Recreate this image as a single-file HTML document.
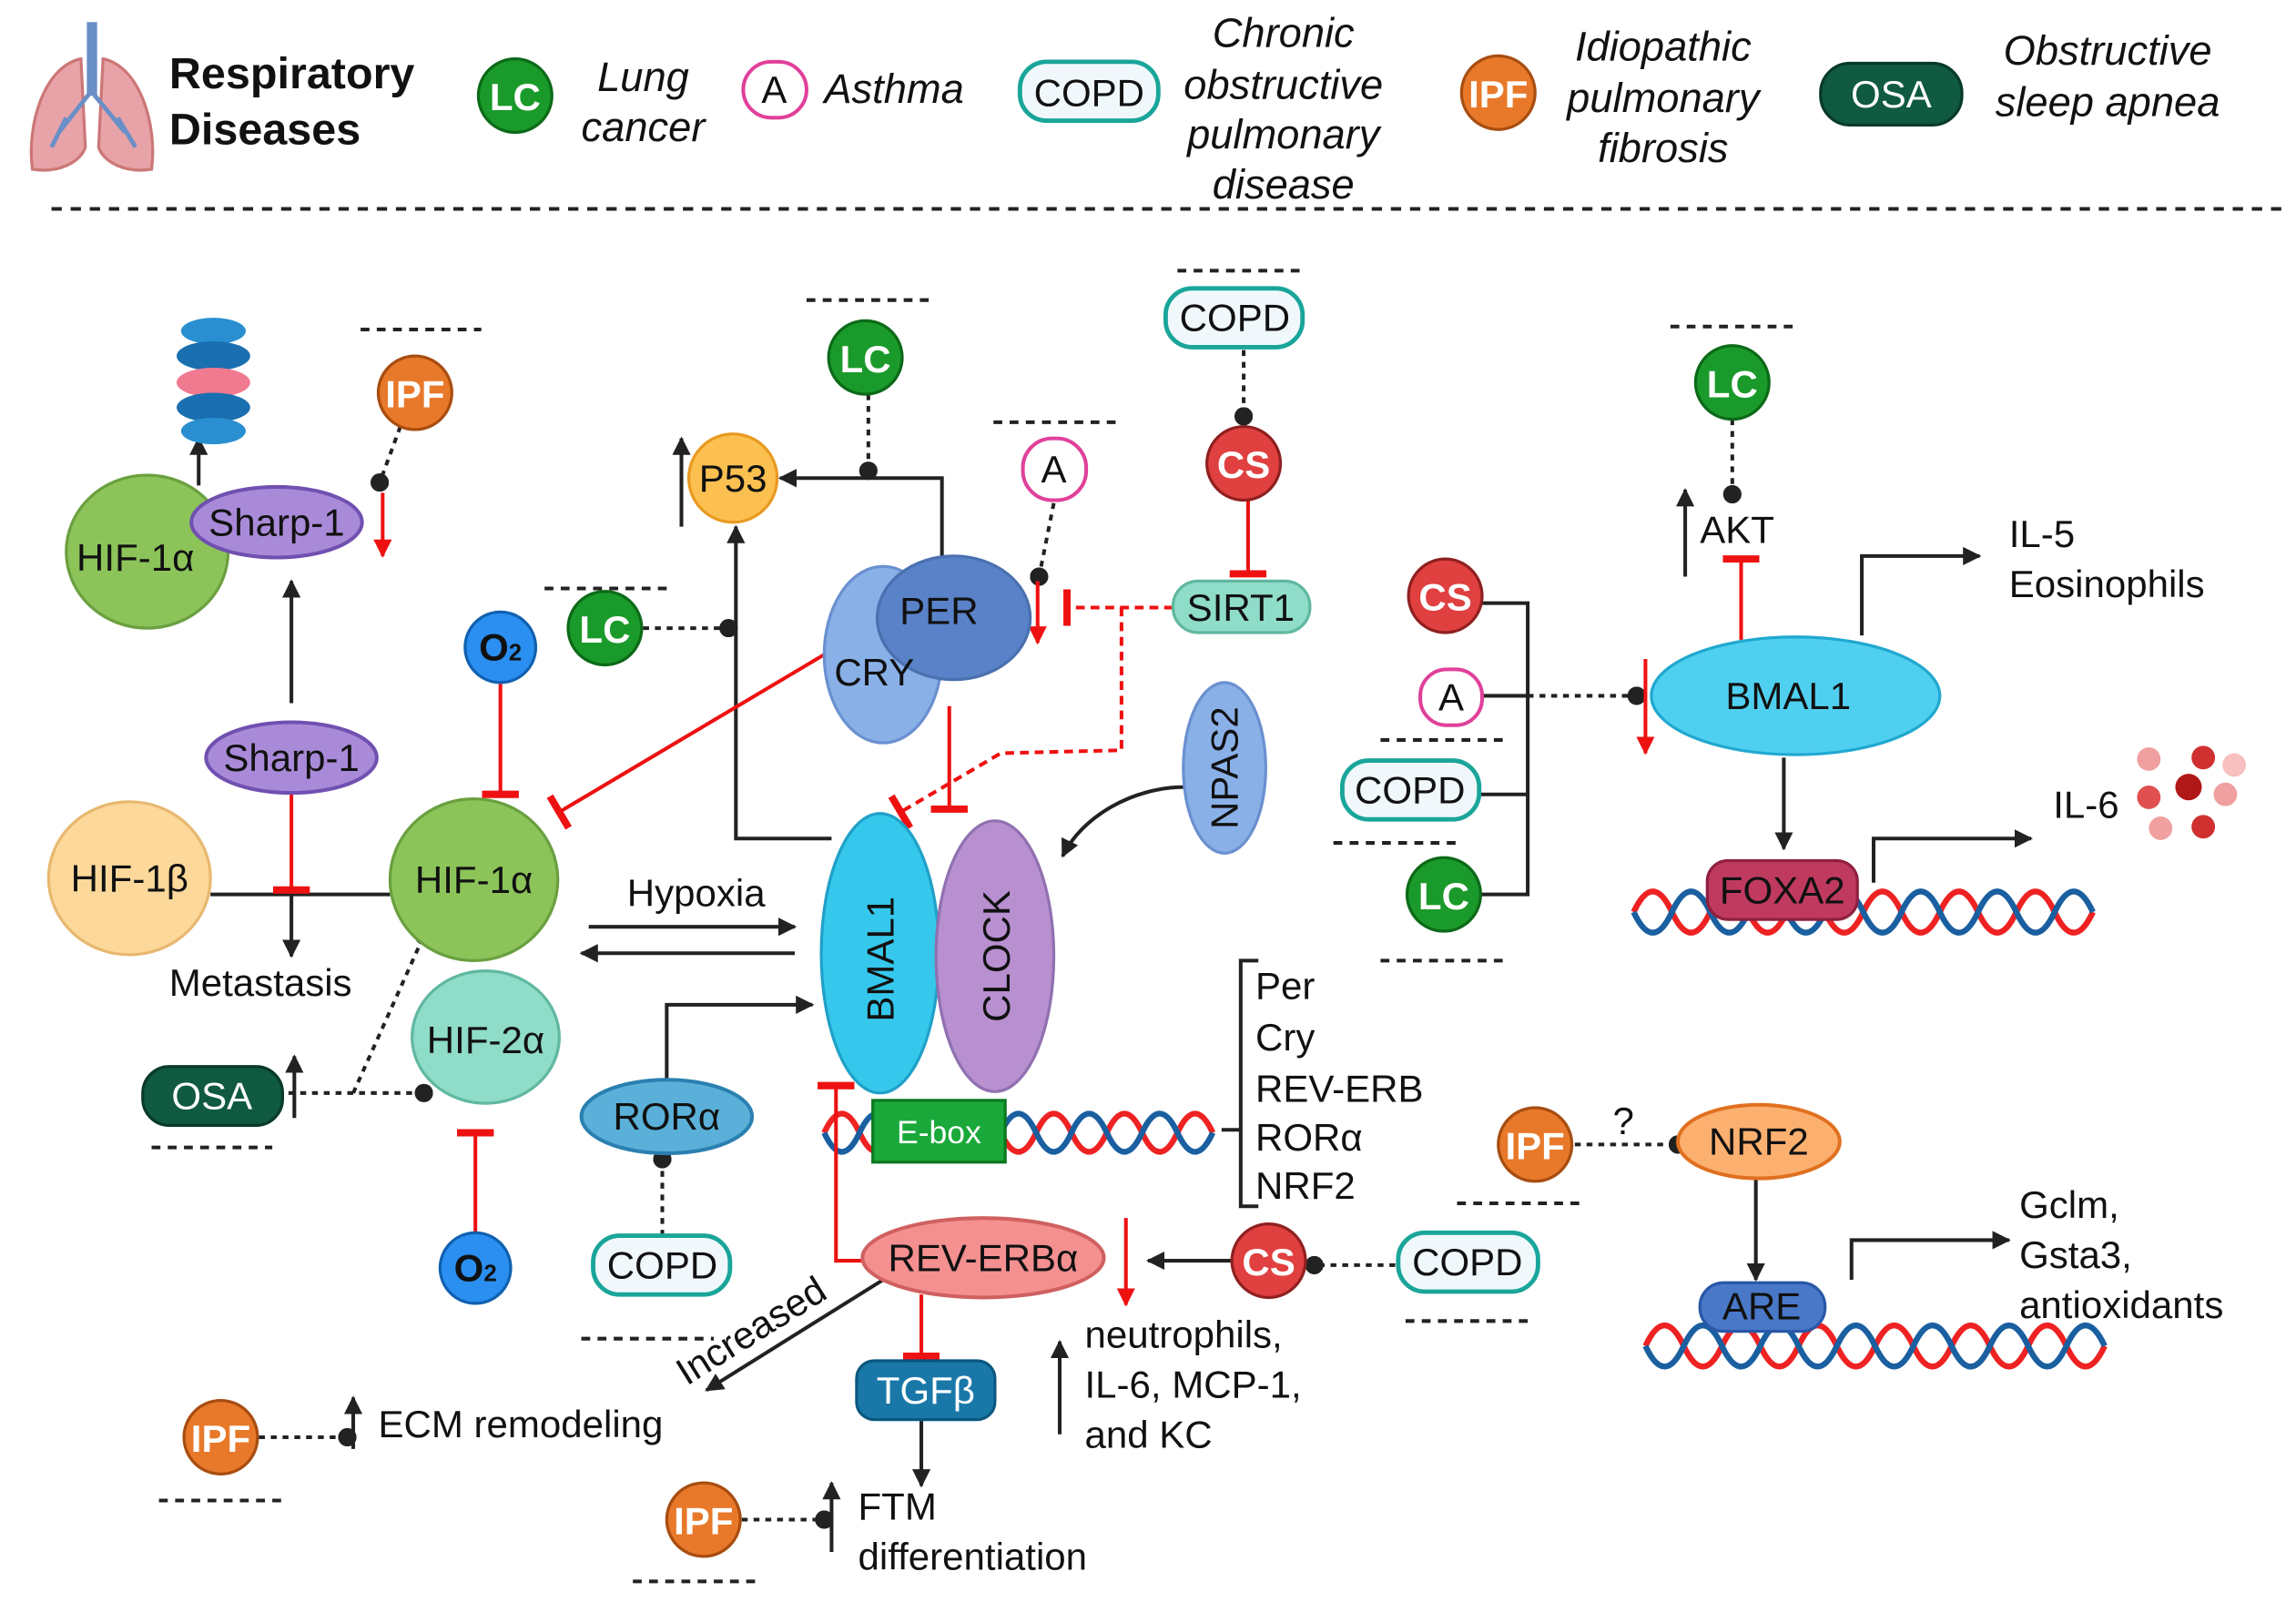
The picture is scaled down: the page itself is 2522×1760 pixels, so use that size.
<!DOCTYPE html>
<html><head><meta charset="utf-8"><style>
html,body{margin:0;padding:0;background:#fff}
svg{display:block}
text{font-family:"Liberation Sans",sans-serif;fill:#111}
.l{font-size:26px}
.it{font-style:italic;font-size:28px}
.w{fill:#fff;font-weight:bold}
</style></head><body>
<svg width="2522" height="1760" viewBox="0 0 1560 1089" preserveAspectRatio="none" xmlns="http://www.w3.org/2000/svg">
<defs>
<marker id="ab" viewBox="0 0 10 10" refX="9" refY="5" markerWidth="5" markerHeight="5" orient="auto"><path d="M0,0L10,5L0,10z" fill="#222"/></marker>
<marker id="ar" viewBox="0 0 10 10" refX="9" refY="5" markerWidth="5" markerHeight="5" orient="auto"><path d="M0,0L10,5L0,10z" fill="#e11"/></marker>
<marker id="tr" viewBox="0 0 4 20" refX="2" refY="10" markerWidth="2" markerHeight="10" orient="auto"><rect x="0" y="0" width="4" height="20" fill="#e11"/></marker>
<marker id="dot" viewBox="0 0 10 10" refX="5" refY="5" markerWidth="5" markerHeight="5"><circle cx="5" cy="5" r="5" fill="#222"/></marker>
</defs>
<!-- lungs -->
<g>
<path d="M55,40 C30,45 18,85 22,115 C40,118 55,110 58,100 Z" fill="#e8a3a8" stroke="#c77" stroke-width="2"/>
<path d="M70,40 C95,45 107,85 103,115 C85,118 70,110 67,100 Z" fill="#e8a3a8" stroke="#c77" stroke-width="2"/>
<rect x="59" y="15" width="7" height="50" fill="#6a8fc6"/>
<path d="M62,62 L40,90 M62,62 L85,90 M45,80 L35,100 M80,80 L92,100" stroke="#6a8fc6" stroke-width="3" fill="none"/>
</g>
<text x="115" y="60" style="font-size:30px;font-weight:bold">Respiratory</text>
<text x="115" y="98" style="font-size:30px;font-weight:bold">Diseases</text>
<circle cx="350" cy="65" r="25" fill="#1a9a2a" stroke="#0c6a18" stroke-width="2"/><text x="350" y="75" text-anchor="middle" class="l w">LC</text>
<text x="437" y="62" text-anchor="middle" class="it">Lung</text><text x="437" y="96" text-anchor="middle" class="it">cancer</text>
<rect x="505" y="42" width="43" height="38" rx="19" fill="#fff" stroke="#e0409a" stroke-width="2.5"/><text x="526" y="70" text-anchor="middle" class="l">A</text>
<text x="560" y="70" class="it">Asthma</text>
<rect x="693" y="42" width="94" height="40" rx="18" fill="#f0f8fc" stroke="#1aa59a" stroke-width="3"/><text x="740" y="72" text-anchor="middle" class="l">COPD</text>
<text x="872" y="32" text-anchor="middle" class="it">Chronic</text><text x="872" y="67" text-anchor="middle" class="it">obstructive</text><text x="872" y="101" text-anchor="middle" class="it">pulmonary</text><text x="872" y="135" text-anchor="middle" class="it">disease</text>
<circle cx="1018" cy="63" r="25" fill="#e8792a" stroke="#a84d10" stroke-width="2"/><text x="1018" y="73" text-anchor="middle" class="l w">IPF</text>
<text x="1130" y="41" text-anchor="middle" class="it">Idiopathic</text><text x="1130" y="76" text-anchor="middle" class="it">pulmonary</text><text x="1130" y="110" text-anchor="middle" class="it">fibrosis</text>
<rect x="1237" y="43" width="96" height="42" rx="20" fill="#0f5a40" stroke="#083a28" stroke-width="2"/><text x="1285" y="73" text-anchor="middle" class="l" style="fill:#fff">OSA</text>
<text x="1432" y="44" text-anchor="middle" class="it">Obstructive</text><text x="1432" y="79" text-anchor="middle" class="it">sleep apnea</text>
<line x1="35" y1="142" x2="1555" y2="142" stroke="#222" stroke-width="2.5" stroke-dasharray="7,6"/>

<g stroke="#222" stroke-width="2.5" stroke-dasharray="6,5">
<line x1="245" y1="224" x2="327" y2="224"/><line x1="548" y1="204" x2="632" y2="204"/><line x1="370" y1="400" x2="455" y2="400"/>
<line x1="675" y1="287" x2="760" y2="287"/><line x1="800" y1="184" x2="887" y2="184"/><line x1="103" y1="780" x2="185" y2="780"/>
<line x1="395" y1="910" x2="485" y2="910"/><line x1="955" y1="898" x2="1040" y2="898"/><line x1="108" y1="1020" x2="192" y2="1020"/>
<line x1="430" y1="1075" x2="513" y2="1075"/><line x1="1135" y1="222" x2="1220" y2="222"/><line x1="938" y1="503" x2="1025" y2="503"/>
<line x1="906" y1="573" x2="992" y2="573"/><line x1="938" y1="653" x2="1022" y2="653"/><line x1="990" y1="818" x2="1075" y2="818"/>
</g>

<g fill="none" stroke-width="4">
<path d="M560,770 q12,-26 24,0 t24,0 t24,0 t24,0 t24,0 t24,0 t24,0 t24,0 t24,0 t24,0 t24,0" stroke="#e22"/>
<path d="M560,770 q12,26 24,0 t24,0 t24,0 t24,0 t24,0 t24,0 t24,0 t24,0 t24,0 t24,0 t24,0" stroke="#1a5fa0"/>
<path d="M1110,620 q13,-28 26,0 t26,0 t26,0 t26,0 t26,0 t26,0 t26,0 t26,0 t26,0 t26,0 t26,0 t26,0" stroke="#e22"/>
<path d="M1110,620 q13,28 26,0 t26,0 t26,0 t26,0 t26,0 t26,0 t26,0 t26,0 t26,0 t26,0 t26,0 t26,0" stroke="#1a5fa0"/>
<path d="M1118,915 q13,-28 26,0 t26,0 t26,0 t26,0 t26,0 t26,0 t26,0 t26,0 t26,0 t26,0 t26,0 t26,0" stroke="#e22"/>
<path d="M1118,915 q13,28 26,0 t26,0 t26,0 t26,0 t26,0 t26,0 t26,0 t26,0 t26,0 t26,0 t26,0 t26,0" stroke="#1a5fa0"/>
</g>

<g fill="none" stroke="#222" stroke-width="2.5">
<line x1="135" y1="330" x2="135" y2="298" marker-end="url(#ab)"/>
<line x1="198" y1="478" x2="198" y2="395" marker-end="url(#ab)"/>
<line x1="143" y1="608" x2="265" y2="608"/>
<line x1="198" y1="608" x2="198" y2="650" marker-end="url(#ab)"/>
<line x1="200" y1="760" x2="200" y2="718" marker-end="url(#ab)"/>
<line x1="400" y1="630" x2="540" y2="630" marker-end="url(#ab)"/>
<line x1="540" y1="648" x2="395" y2="648" marker-end="url(#ab)"/>
<line x1="463" y1="358" x2="463" y2="298" marker-end="url(#ab)"/>
<polyline points="640,378 640,325 530,325" marker-end="url(#ab)"/>
<polyline points="565,570 500,570 500,358" marker-end="url(#ab)"/>
<path d="M805,535 C770,535 735,555 722,582" marker-end="url(#ab)"/>
<polyline points="453,734 453,683 552,683" marker-end="url(#ab)"/>
<polyline points="830,768 843,768"/>
<polyline points="855,653 843,653 843,820 855,820"/>
<line x1="600" y1="870" x2="480" y2="945" marker-end="url(#ab)"/>
<line x1="626" y1="965" x2="626" y2="1010" marker-end="url(#ab)"/>
<line x1="840" y1="857" x2="780" y2="857" marker-end="url(#ab)"/>
<line x1="720" y1="975" x2="720" y2="912" marker-end="url(#ab)"/>
<line x1="240" y1="985" x2="240" y2="950" marker-end="url(#ab)"/>
<line x1="565" y1="1055" x2="565" y2="1008" marker-end="url(#ab)"/>
<line x1="1145" y1="392" x2="1145" y2="333" marker-end="url(#ab)"/>
<polyline points="1005,410 1038,410 1038,608 1005,608"/>
<line x1="1007" y1="473" x2="1038" y2="473"/><line x1="1005" y1="540" x2="1038" y2="540"/>
<polyline points="1265,432 1265,378 1345,378" marker-end="url(#ab)"/>
<line x1="1212" y1="515" x2="1212" y2="577" marker-end="url(#ab)"/>
<polyline points="1273,600 1273,570 1380,570" marker-end="url(#ab)"/>
<line x1="1193" y1="801" x2="1193" y2="870" marker-end="url(#ab)"/>
<polyline points="1258,870 1258,843 1365,843" marker-end="url(#ab)"/>
</g>
<g fill="none" stroke="#222" stroke-width="2.5" stroke-dasharray="4,4">
<line x1="272" y1="290" x2="258" y2="328" marker-end="url(#dot)"/>
<line x1="590" y1="268" x2="590" y2="320" marker-end="url(#dot)"/>
<line x1="437" y1="427" x2="495" y2="427" marker-end="url(#dot)"/>
<line x1="716" y1="342" x2="706" y2="392" marker-end="url(#dot)"/>
<line x1="845" y1="238" x2="845" y2="283" marker-end="url(#dot)"/>
<line x1="196" y1="743" x2="288" y2="743" marker-end="url(#dot)"/>
<line x1="240" y1="743" x2="288" y2="636" marker-end="url(#dot)"/>
<line x1="450" y1="840" x2="450" y2="788" marker-end="url(#dot)"/>
<line x1="948" y1="860" x2="893" y2="860" marker-end="url(#dot)"/>
<line x1="176" y1="977" x2="236" y2="977" marker-end="url(#dot)"/>
<line x1="504" y1="1033" x2="560" y2="1033" marker-end="url(#dot)"/>
<line x1="1177" y1="285" x2="1177" y2="336" marker-end="url(#dot)"/>
<line x1="1038" y1="473" x2="1112" y2="473" marker-end="url(#dot)"/>
<line x1="1070" y1="778" x2="1140" y2="778" marker-end="url(#dot)"/>
</g>
<g fill="none" stroke="#e11" stroke-width="2.5">
<line x1="260" y1="335" x2="260" y2="378" marker-end="url(#ar)"/>
<line x1="198" y1="540" x2="198" y2="605" marker-end="url(#tr)"/>
<line x1="340" y1="465" x2="340" y2="540" marker-end="url(#tr)"/>
<line x1="323" y1="838" x2="323" y2="770" marker-end="url(#tr)"/>
<line x1="560" y1="445" x2="380" y2="552" marker-end="url(#tr)"/>
<line x1="705" y1="395" x2="705" y2="437" marker-end="url(#ar)"/>
<line x1="848" y1="340" x2="848" y2="390" marker-end="url(#tr)"/>
<line x1="645" y1="480" x2="645" y2="550" marker-end="url(#tr)"/>
<polyline points="590,857 568,857 568,738" marker-end="url(#tr)"/>
<line x1="626" y1="880" x2="626" y2="922" marker-end="url(#tr)"/>
<line x1="765" y1="828" x2="765" y2="887" marker-end="url(#ar)"/>
<line x1="1183" y1="435" x2="1183" y2="380" marker-end="url(#tr)"/>
<line x1="1118" y1="448" x2="1118" y2="512" marker-end="url(#ar)"/>
<g stroke-dasharray="6,4">
<line x1="797" y1="413" x2="725" y2="413" marker-end="url(#tr)"/>
<polyline points="762,413 762,510 680,512 612,552" marker-end="url(#tr)"/>
</g>
</g>

<g>
<ellipse cx="145" cy="225" rx="22" ry="9" fill="#2a8fd0"/><ellipse cx="145" cy="242" rx="25" ry="10" fill="#1a6fb0"/>
<ellipse cx="145" cy="260" rx="25" ry="10" fill="#f07a90"/><ellipse cx="145" cy="277" rx="25" ry="10" fill="#1a6fb0"/><ellipse cx="145" cy="293" rx="22" ry="9" fill="#2a8fd0"/>
</g>
<ellipse cx="100" cy="375" rx="55" ry="52" fill="#8cc45a" stroke="#6aa040" stroke-width="2"/><text x="92" y="388" text-anchor="middle" class="l">HIF-1α</text>
<ellipse cx="188" cy="355" rx="58" ry="24" fill="#a98ad8" stroke="#7050b0" stroke-width="2.5"/><text x="188" y="364" text-anchor="middle" class="l">Sharp-1</text>
<circle cx="282" cy="267" r="25" fill="#e8792a" stroke="#a84d10" stroke-width="2"/><text x="282" y="277" text-anchor="middle" class="l w">IPF</text>
<ellipse cx="198" cy="515" rx="58" ry="24" fill="#a98ad8" stroke="#7050b0" stroke-width="2.5"/><text x="198" y="524" text-anchor="middle" class="l">Sharp-1</text>
<ellipse cx="88" cy="597" rx="55" ry="52" fill="#fcd89a" stroke="#e8b870" stroke-width="2"/><text x="88" y="606" text-anchor="middle" class="l">HIF-1β</text>
<text x="177" y="677" text-anchor="middle" class="l">Metastasis</text>
<ellipse cx="322" cy="598" rx="57" ry="55" fill="#8cc45a" stroke="#6aa040" stroke-width="2"/><text x="322" y="607" text-anchor="middle" class="l">HIF-1α</text>
<circle cx="340" cy="440" r="24" fill="#2a8ff0" stroke="#1060b0" stroke-width="2"/><text x="340" y="449" text-anchor="middle" class="l" style="font-weight:bold">O<tspan style="font-size:16px">2</tspan></text>
<ellipse cx="330" cy="705" rx="50" ry="45" fill="#8fdcc8" stroke="#60b8a0" stroke-width="2"/><text x="330" y="716" text-anchor="middle" class="l">HIF-2α</text>
<rect x="97" y="725" width="95" height="40" rx="18" fill="#0f5a40" stroke="#083a28" stroke-width="2"/><text x="144" y="754" text-anchor="middle" class="l" style="fill:#fff">OSA</text>
<circle cx="323" cy="862" r="24" fill="#2a8ff0" stroke="#1060b0" stroke-width="2"/><text x="323" y="871" text-anchor="middle" class="l" style="font-weight:bold">O<tspan style="font-size:16px">2</tspan></text>
<text x="473" y="616" text-anchor="middle" class="l">Hypoxia</text>
<circle cx="498" cy="325" r="30" fill="#fcc050" stroke="#e89a20" stroke-width="2"/><text x="498" y="334" text-anchor="middle" class="l">P53</text>
<circle cx="588" cy="243" r="25" fill="#1a9a2a" stroke="#0c6a18" stroke-width="2"/><text x="588" y="253" text-anchor="middle" class="l w">LC</text>
<circle cx="411" cy="427" r="25" fill="#1a9a2a" stroke="#0c6a18" stroke-width="2"/><text x="411" y="437" text-anchor="middle" class="l w">LC</text>
<ellipse cx="600" cy="445" rx="40" ry="60" fill="#8ab0e8" stroke="#6a90d0" stroke-width="2"/>
<ellipse cx="648" cy="420" rx="52" ry="42" fill="#5a82c8" stroke="#4a70b0" stroke-width="2"/>
<text x="638" y="424" text-anchor="middle" class="l">PER</text><text x="594" y="466" text-anchor="middle" class="l">CRY</text>
<rect x="695" y="298" width="43" height="42" rx="20" fill="#fff" stroke="#e0409a" stroke-width="2.5"/><text x="716" y="328" text-anchor="middle" class="l">A</text>
<rect x="792" y="196" width="93" height="40" rx="18" fill="#f0f8fc" stroke="#1aa59a" stroke-width="3"/><text x="839" y="225" text-anchor="middle" class="l">COPD</text>
<circle cx="845" cy="315" r="25" fill="#e04040" stroke="#902020" stroke-width="2"/><text x="845" y="325" text-anchor="middle" class="l w">CS</text>
<rect x="797" y="395" width="93" height="35" rx="17" fill="#8fdcc8" stroke="#60b8a0" stroke-width="2"/><text x="843" y="422" text-anchor="middle" class="l">SIRT1</text>
<ellipse cx="832" cy="522" rx="28" ry="58" fill="#8ab0e8" stroke="#6a90d0" stroke-width="2"/><text transform="translate(841,522) rotate(-90)" text-anchor="middle" class="l">NPAS2</text>
<ellipse cx="598" cy="648" rx="40" ry="95" fill="#35c8ec" stroke="#20a0c8" stroke-width="2"/><text transform="translate(607,652) rotate(-90)" text-anchor="middle" class="l">BMAL1</text>
<ellipse cx="676" cy="650" rx="40" ry="92" fill="#b890d0" stroke="#9070b0" stroke-width="2"/><text transform="translate(686,650) rotate(-90)" text-anchor="middle" class="l">CLOCK</text>
<rect x="593" y="748" width="90" height="42" fill="#1aa83a" stroke="#0c7820" stroke-width="2"/><text x="638" y="777" text-anchor="middle" style="font-size:22px;fill:#fff">E-box</text>
<ellipse cx="453" cy="759" rx="58" ry="25" fill="#5ab0d8" stroke="#2a80b0" stroke-width="2.5"/><text x="453" y="768" text-anchor="middle" class="l">RORα</text>
<rect x="403" y="840" width="93" height="40" rx="18" fill="#f0f8fc" stroke="#1aa59a" stroke-width="3"/><text x="450" y="869" text-anchor="middle" class="l">COPD</text>
<text x="853" y="679" class="l">Per</text><text x="853" y="714" class="l">Cry</text><text x="853" y="749" class="l">REV-ERB</text><text x="853" y="782" class="l">RORα</text><text x="853" y="815" class="l">NRF2</text>
<ellipse cx="668" cy="855" rx="82" ry="27" fill="#f49090" stroke="#d06060" stroke-width="2.5"/><text x="668" y="864" text-anchor="middle" class="l">REV-ERBα</text>
<text transform="translate(515,912) rotate(-32)" text-anchor="middle" class="l">Increased</text>
<rect x="582" y="925" width="94" height="40" rx="12" fill="#1a78a8" stroke="#0a5880" stroke-width="2"/><text x="629" y="954" text-anchor="middle" class="l" style="fill:#fff">TGFβ</text>
<circle cx="862" cy="857" r="25" fill="#e04040" stroke="#902020" stroke-width="2"/><text x="862" y="867" text-anchor="middle" class="l w">CS</text>
<rect x="950" y="838" width="95" height="40" rx="18" fill="#f0f8fc" stroke="#1aa59a" stroke-width="3"/><text x="997" y="867" text-anchor="middle" class="l">COPD</text>
<text x="737" y="916" class="l">neutrophils,</text><text x="737" y="950" class="l">IL-6, MCP-1,</text><text x="737" y="984" class="l">and KC</text>
<circle cx="150" cy="977" r="25" fill="#e8792a" stroke="#a84d10" stroke-width="2"/><text x="150" y="987" text-anchor="middle" class="l w">IPF</text>
<text x="257" y="977" class="l">ECM remodeling</text>
<circle cx="478" cy="1033" r="25" fill="#e8792a" stroke="#a84d10" stroke-width="2"/><text x="478" y="1043" text-anchor="middle" class="l w">IPF</text>
<text x="583" y="1033" class="l">FTM</text><text x="583" y="1067" class="l">differentiation</text>

<circle cx="1177" cy="260" r="25" fill="#1a9a2a" stroke="#0c6a18" stroke-width="2"/><text x="1177" y="270" text-anchor="middle" class="l w">LC</text>
<text x="1155" y="369" class="l">AKT</text>
<circle cx="982" cy="405" r="25" fill="#e04040" stroke="#902020" stroke-width="2"/><text x="982" y="415" text-anchor="middle" class="l w">CS</text>
<rect x="965" y="455" width="42" height="38" rx="18" fill="#fff" stroke="#e0409a" stroke-width="2.5"/><text x="986" y="483" text-anchor="middle" class="l">A</text>
<rect x="912" y="517" width="93" height="40" rx="18" fill="#f0f8fc" stroke="#1aa59a" stroke-width="3"/><text x="958" y="546" text-anchor="middle" class="l">COPD</text>
<circle cx="981" cy="608" r="25" fill="#1a9a2a" stroke="#0c6a18" stroke-width="2"/><text x="981" y="618" text-anchor="middle" class="l w">LC</text>
<ellipse cx="1220" cy="473" rx="98" ry="40" fill="#50d0f0" stroke="#20a8d0" stroke-width="2"/><text x="1215" y="482" text-anchor="middle" class="l">BMAL1</text>
<text x="1365" y="372" class="l">IL-5</text><text x="1365" y="406" class="l">Eosinophils</text>
<rect x="1160" y="585" width="102" height="40" rx="14" fill="#c03a60" stroke="#902040" stroke-width="2"/><text x="1211" y="614" text-anchor="middle" class="l">FOXA2</text>
<text x="1395" y="556" class="l">IL-6</text>
<g fill="#e05050"><circle cx="1460" cy="516" r="8" fill="#f0a0a0"/><circle cx="1497" cy="515" r="8" fill="#d03030"/><circle cx="1518" cy="520" r="8" fill="#f8c0c0"/><circle cx="1460" cy="542" r="8"/><circle cx="1487" cy="535" r="9" fill="#b01818"/><circle cx="1512" cy="540" r="8" fill="#f0a0a0"/><circle cx="1468" cy="563" r="8" fill="#f0a0a0"/><circle cx="1497" cy="562" r="8" fill="#d03030"/></g>
<circle cx="1043" cy="778" r="25" fill="#e8792a" stroke="#a84d10" stroke-width="2"/><text x="1043" y="788" text-anchor="middle" class="l w">IPF</text>
<text x="1103" y="771" text-anchor="middle" class="l">?</text>
<ellipse cx="1195" cy="776" rx="55" ry="25" fill="#fcb070" stroke="#e07020" stroke-width="2.5"/><text x="1195" y="785" text-anchor="middle" class="l">NRF2</text>
<rect x="1155" y="872" width="85" height="33" rx="16" fill="#4a78c8" stroke="#2a58a8" stroke-width="2"/><text x="1197" y="897" text-anchor="middle" class="l">ARE</text>
<text x="1372" y="828" class="l">Gclm,</text><text x="1372" y="862" class="l">Gsta3,</text><text x="1372" y="896" class="l">antioxidants</text>
</svg>
</body></html>
